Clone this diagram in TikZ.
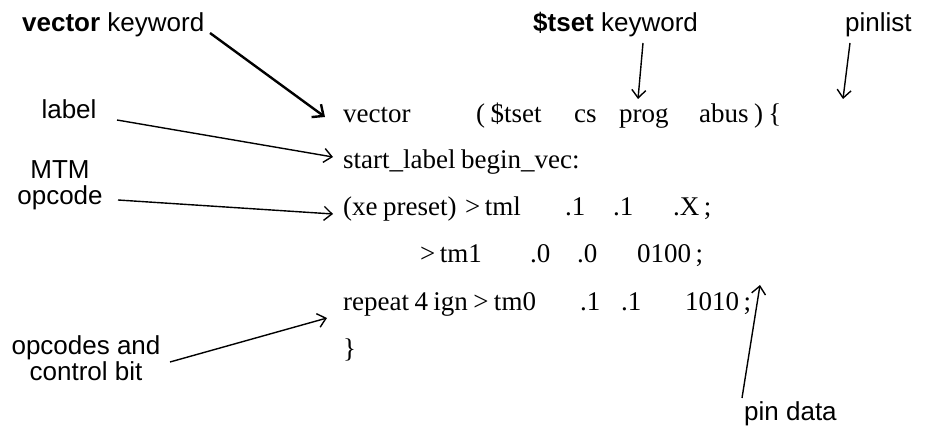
\documentclass[tikz,border=0pt]{standalone}
\usepackage{fontspec}
\setmainfont[WordSpace=0.8]{Liberation Serif}
\newfontfamily\lsans{Liberation Sans}
\usetikzlibrary{arrows.meta}
\begin{document}
\begin{tikzpicture}[x=1pt,y=-1pt,
  code/.style={anchor=base west, inner sep=0pt, font=\fontsize{27}{32}\selectfont},
  lab/.style={inner sep=0pt, font=\lsans\fontsize{26}{26}\selectfont, align=center},
  arr/.style={line width=1.4pt, -{Straight Barb[length=8pt,width=14pt,line width=1.4pt]}},
  arrthick/.style={line width=2.4pt, -{Straight Barb[length=9pt,width=16pt,line width=2.4pt]}}]
\useasboundingbox (0,0) rectangle (950,430);
% labels
\node[lab, anchor=base west] (kv) at (22,32) {\textbf{vector} keyword};
\node[lab, anchor=base west] (kt) at (533,32) {\textbf{\$tset} keyword};
\node[lab, anchor=base west] (kp) at (845,32) {pinlist};
\node[lab, anchor=base] (kl) at (69,119) {label};
\node[lab] (km) at (60,185) {MTM\\opcode};
\node[lab] (ko) at (86,358) {opcodes and\\control bit};
\node[lab, anchor=base west] (kd) at (744,420) {pin data};
% code line 1
\node[code] (c1a) at (343,123) {vector};
\node[code] (c1b) at (476,123) {( \$tset};
\node[code] (c1c) at (574,123) {cs};
\node[code] (c1d) at (619,123) {prog};
\node[code] (c1e) at (699,123) {abus ) \{};
% line 2
\node[code] (c2a) at (343,169) {start\_label begin\_vec:};
% line 3
\node[code] (c3a) at (343,216) {(xe preset)};
\node[code] (c3b) at (465,216) {>\,tml};
\node[code] (c3c) at (565,216) {.1};
\node[code] (c3d) at (613,216) {.1};
\node[code] (c3e) at (673,216) {.X\,;};
% line 4
\node[code] (c4a) at (420,263) {>\,tm1};
\node[code] (c4b) at (530,263) {.0};
\node[code] (c4c) at (577,263) {.0};
\node[code] (c4d) at (637,263) {0100\,;};
% line 5
\node[code] (c5a) at (343,310) {repeat 4 ign > tm0};
\node[code] (c5b) at (580,310) {.1};
\node[code] (c5c) at (621,310) {.1};
\node[code] (c5d) at (685,310) {1010\,;};
% line 6
\node[code] (c6a) at (343,357) {\}};
% arrow ends
\coordinate (s1) at (210,33);  \coordinate (e1) at (325,117);
\coordinate (s2) at (117,120); \coordinate (e2) at (333,157);
\coordinate (s3) at (118,200); \coordinate (e3) at (333,214);
\coordinate (s4) at (170,362); \coordinate (e4) at (327,318);
\coordinate (s5) at (643,43);  \coordinate (e5) at (638,99);
\coordinate (s6) at (850,43);  \coordinate (e6) at (843,99);
\coordinate (s7) at (742,398); \coordinate (e7) at (760,285);
\draw[arrthick] (s1) -- (e1);
\draw[arr] (s2) -- (e2);
\draw[arr] (s3) -- (e3);
\draw[arr] (s4) -- (e4);
\draw[arr] (s5) -- (e5);
\draw[arr] (s6) -- (e6);
\draw[arr] (s7) -- (e7);
\end{tikzpicture}
\end{document}
